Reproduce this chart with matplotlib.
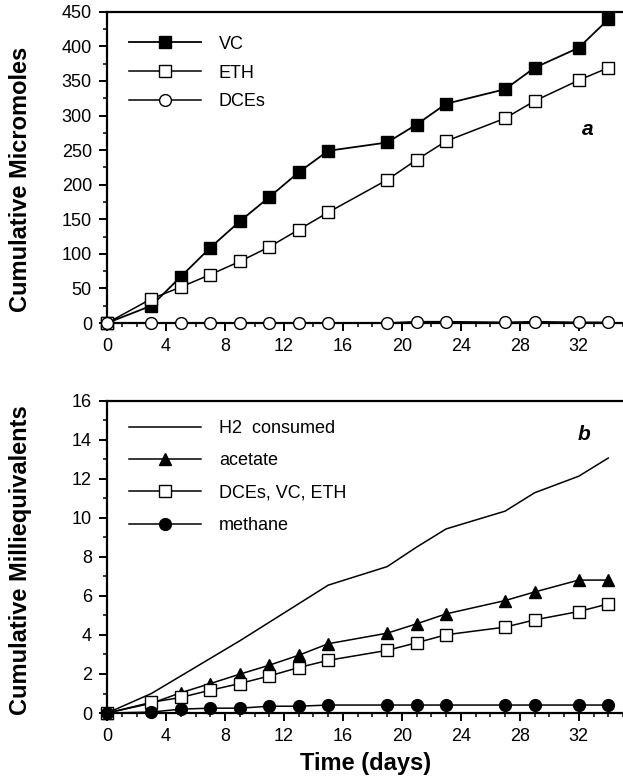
import matplotlib.pyplot as plt
from matplotlib.ticker import MultipleLocator

plt.rcParams['font.family'] = ['Liberation Sans', 'DejaVu Sans']

# sampling days
days = [0, 3, 5, 7, 9, 11, 13, 15, 19, 21, 23, 27, 29, 32, 34]

# panel a: cumulative micromoles
vc = [0, 25, 67, 109, 147, 182, 218, 249, 261, 287, 317, 338, 369, 398, 439]
eth = [0, 35, 52, 70, 89, 110, 135, 160, 207, 236, 263, 296, 321, 351, 369]
dces = [0, 0, 0, 0, 0, 0, 0, 0, 0, 2, 2, 1, 2, 1, 1]

# panel b: cumulative milliequivalents
h2 = [0, 1.0, 1.9, 2.8, 3.7, 4.65, 5.6, 6.55, 7.5, 8.5, 9.43, 10.34, 11.28, 12.13, 13.06]
acetate = [0, 0.5, 1.04, 1.51, 1.99, 2.45, 2.96, 3.55, 4.09, 4.57, 5.08, 5.76, 6.2, 6.81, 6.81]
dce_vc_eth = [0, 0.55, 0.8, 1.17, 1.51, 1.9, 2.33, 2.7, 3.21, 3.6, 4.01, 4.4, 4.77, 5.2, 5.59]
methane = [0, 0.05, 0.2, 0.25, 0.25, 0.35, 0.35, 0.41, 0.41, 0.41, 0.41, 0.41, 0.41, 0.41, 0.41]

fig = plt.figure(figsize=(6.23, 7.84), dpi=100)
ax1 = fig.add_axes([0.172, 0.588, 0.828, 0.397])
ax2 = fig.add_axes([0.172, 0.0905, 0.828, 0.3985])

ms = 8.5
ax1.plot(days, vc, '-s', color='black', mfc='black', ms=ms, lw=1.3, label='VC', clip_on=False, zorder=3)
ax1.plot(days, eth, '-s', color='black', mfc='white', ms=ms, lw=1.1, label='ETH', clip_on=False, zorder=4)
ax1.plot(days, dces, '-o', color='black', mfc='white', ms=ms, lw=1.1, label='DCEs', clip_on=False, zorder=4)

ax2.plot(days, h2, '-', color='black', lw=1.1, label='H2  consumed', clip_on=False)
ax2.plot(days, acetate, '-^', color='black', mfc='black', ms=ms, lw=1.1, label='acetate', clip_on=False, zorder=3)
ax2.plot(days, dce_vc_eth, '-s', color='black', mfc='white', ms=ms, lw=1.1, label='DCEs, VC, ETH', clip_on=False, zorder=4)
ax2.plot(days, methane, '-o', color='black', mfc='black', ms=ms, lw=1.1, label='methane', clip_on=False, zorder=4)

for ax in (ax1, ax2):
    ax.set_xlim(0, 35)
    ax.xaxis.set_major_locator(MultipleLocator(4))
    ax.xaxis.set_minor_locator(MultipleLocator(1))
    ax.spines['right'].set_visible(False)
    for s in ('left', 'bottom', 'top'):
        ax.spines[s].set_linewidth(1.6)
    ax.tick_params(which='major', direction='out', length=6, width=1.4, labelsize=13, pad=5)
    ax.tick_params(which='minor', direction='out', length=3, width=1.1)

ax1.set_ylim(0, 450)
ax1.yaxis.set_major_locator(MultipleLocator(50))
ax1.yaxis.set_minor_locator(MultipleLocator(25))
ax1.set_ylabel('Cumulative Micromoles', fontsize=17, fontweight='bold')
ax1.yaxis.set_label_coords(-0.145, 0.46)
ax1.text(0.92, 0.605, 'a', transform=ax1.transAxes, fontsize=15, fontweight='bold', style='italic')
ax1.legend(loc='upper left', frameon=False, fontsize=13, handlelength=4.0, handletextpad=1.0,
           labelspacing=0.65, bbox_to_anchor=(0.01, 0.975))

ax2.set_ylim(0, 16)
ax2.yaxis.set_major_locator(MultipleLocator(2))
ax2.yaxis.set_minor_locator(MultipleLocator(1))
ax2.set_ylabel('Cumulative Milliequivalents', fontsize=17, fontweight='bold')
ax2.yaxis.set_label_coords(-0.145, 0.49)
ax2.set_xlabel('Time (days)', fontsize=17, fontweight='bold', labelpad=5)
ax2.text(0.912, 0.875, 'b', transform=ax2.transAxes, fontsize=15, fontweight='bold', style='italic')
ax2.legend(loc='upper left', frameon=False, fontsize=13, handlelength=4.0, handletextpad=1.0,
           labelspacing=0.85, bbox_to_anchor=(0.01, 0.99))

fig.savefig('out.png', dpi=100)
